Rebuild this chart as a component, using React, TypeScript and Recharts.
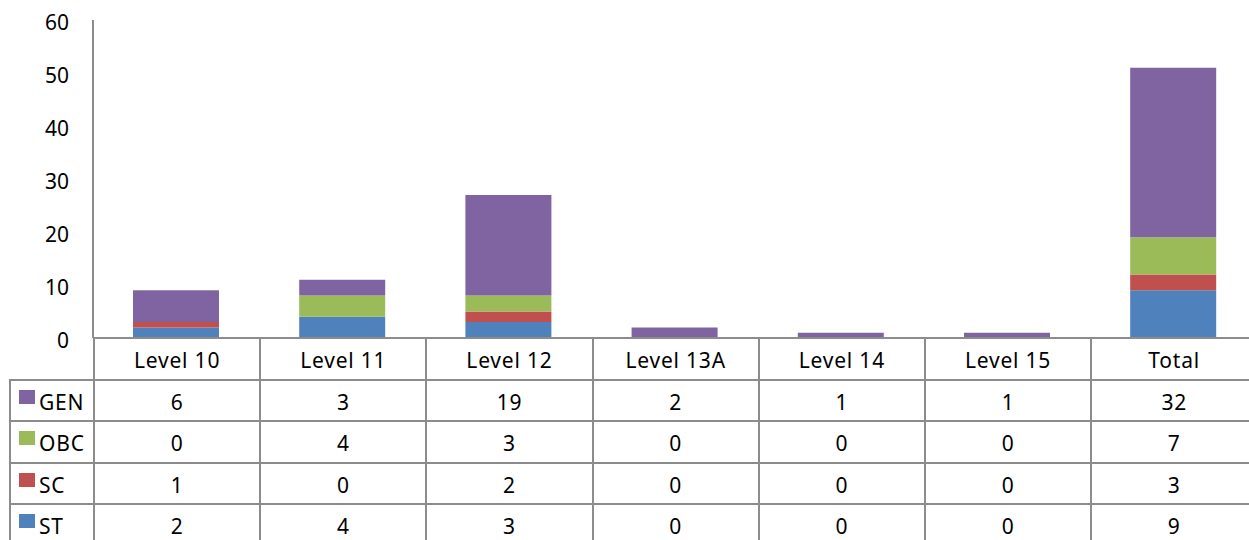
import { BarChart, Bar, XAxis, YAxis } from "recharts";

const CATEGORIES = ["Level 10", "Level 11", "Level 12", "Level 13A", "Level 14", "Level 15", "Total"];
const ST = [2, 4, 3, 0, 0, 0, 9];
const SC = [1, 0, 2, 0, 0, 0, 3];
const OBC = [0, 4, 3, 0, 0, 0, 7];
const GEN = [6, 3, 19, 2, 1, 1, 32];
const Y_TICKS = [0, 10, 20, 30, 40, 50, 60];

const SERIES = [
  { key: "GEN", values: GEN, color: "#8064A2" },
  { key: "OBC", values: OBC, color: "#9BBB59" },
  { key: "SC", values: SC, color: "#C0504D" },
  { key: "ST", values: ST, color: "#4F81BD" },
];

const data = CATEGORIES.map((c, i) => ({
  name: c,
  ST: ST[i],
  SC: SC[i],
  OBC: OBC[i],
  GEN: GEN[i],
}));

const FONT = "'Noto Sans', sans-serif";
const GRID = "#8c8c8c";
const COL_W = 166.2;
const LEFT_W = 84;
const AXIS_X = 93;
const ROW_H = 41.5;

export default function App() {
  const stackOrder = [...SERIES].reverse();
  const cell = (extra: React.CSSProperties = {}): React.CSSProperties => ({
    width: COL_W,
    height: ROW_H,
    boxSizing: "border-box",
    borderRight: `2px solid ${GRID}`,
    borderBottom: `2px solid ${GRID}`,
    textAlign: "center",
    fontSize: 21,
    letterSpacing: 0.8,
    color: "#000",
    paddingTop: 4,
    ...extra,
  });

  return (
    <div
      style={{
        position: "absolute",
        left: 0,
        top: 0,
        width: 1249,
        height: 540,
        overflow: "hidden",
        background: "#fff",
        fontFamily: FONT,
      }}
    >
      <BarChart
        width={AXIS_X + COL_W * 7}
        height={370}
        data={data}
        margin={{ top: 20, right: 0, bottom: 32, left: 0 }}
        barSize={86}
      >
        <XAxis dataKey="name" hide />
        <YAxis
          width={AXIS_X}
          domain={[0, 60]}
          ticks={Y_TICKS}
          interval={0}
          tickLine={false}
          tickMargin={18}
          axisLine={{ stroke: GRID, strokeWidth: 2 }}
          tick={{ fill: "#000", fontSize: 21, fontFamily: FONT, dy: 3 }}
        />
        {stackOrder.map((s) => (
          <Bar
            key={s.key}
            dataKey={s.key}
            stackId="a"
            fill={s.color}
            isAnimationActive={false}
          />
        ))}
      </BarChart>

      <table
        style={{
          position: "absolute",
          left: 9,
          top: 337,
          borderCollapse: "collapse",
          tableLayout: "fixed",
          width: LEFT_W + COL_W * 7,
          fontFamily: FONT,
        }}
      >
        <tbody>
          <tr>
            <td
              style={{
                width: LEFT_W,
                height: ROW_H,
                boxSizing: "border-box",
                borderRight: `2px solid ${GRID}`,
                borderBottom: `2px solid ${GRID}`,
              }}
            />
            {CATEGORIES.map((c) => (
              <td key={c} style={cell({ borderTop: `2px solid ${GRID}` })}>
                {c}
              </td>
            ))}
          </tr>
          {SERIES.map((s) => (
            <tr key={s.key}>
              <td
                style={{
                  width: LEFT_W,
                  height: ROW_H,
                  boxSizing: "border-box",
                  borderLeft: `2px solid ${GRID}`,
                  borderRight: `2px solid ${GRID}`,
                  borderBottom: `2px solid ${GRID}`,
                  fontSize: 21,
                  letterSpacing: 0.8,
                  paddingLeft: 8,
                  paddingTop: 4,
                  whiteSpace: "nowrap",
                }}
              >
                <span
                  style={{
                    display: "inline-block",
                    width: 16,
                    height: 14,
                    background: s.color,
                    marginRight: 4,
                    verticalAlign: 6,
                  }}
                />
                {s.key}
              </td>
              {s.values.map((v, i) => (
                <td key={i} style={cell()}>
                  {v}
                </td>
              ))}
            </tr>
          ))}
        </tbody>
      </table>
    </div>
  );
}
